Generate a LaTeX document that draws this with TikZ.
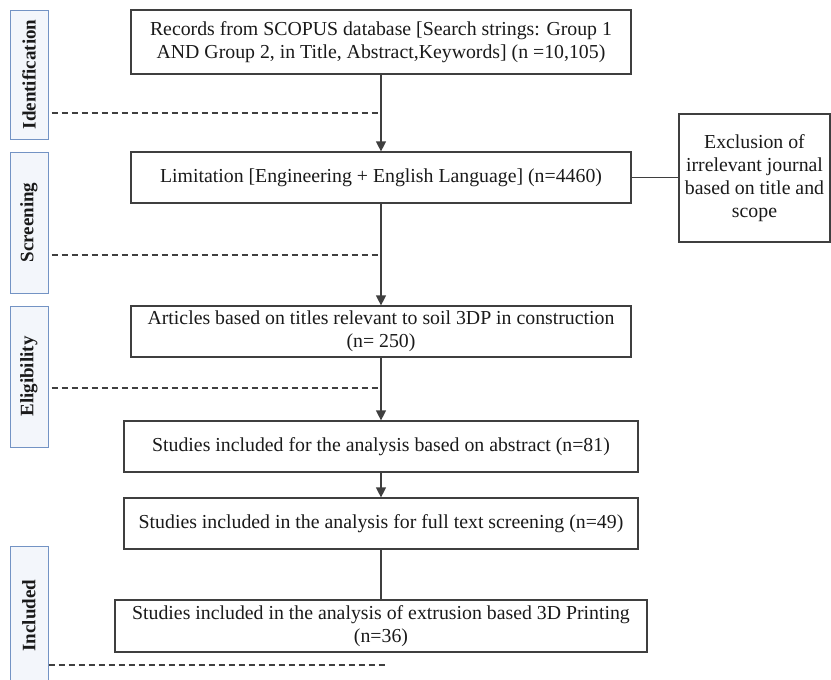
\documentclass[tikz,border=0pt]{standalone}
\usepackage{fontspec}
\setmainfont{Liberation Serif}
\usetikzlibrary{arrows.meta, positioning}

\begin{document}
\begin{tikzpicture}[
    x=1pt, y=-1pt,
    every node/.style={font=\fontsize{19.8}{23}\selectfont},
]

% ---------------------------------------------------------------- colours
\definecolor{linecol}{HTML}{3F3F3F}   % boxes and connectors
\definecolor{textcol}{HTML}{1A1A1A}
\definecolor{phaseline}{HTML}{7393C4} % phase tabs on the left
\definecolor{phasefill}{HTML}{F3F6FB}

% ---------------------------------------------------------------- styles
\tikzset{
    stage/.style={
        rectangle, draw=linecol, line width=1.2pt, fill=white,
        text=textcol, align=center, inner sep=2pt,
    },
    phase/.style={
        rectangle, draw=phaseline, line width=1pt, fill=phasefill,
        minimum height=38, text=textcol, rotate=90,
        font=\fontsize{19}{22}\selectfont\bfseries,
    },
    flow/.style={
        -{Triangle[length=10pt, width=10pt]}, line width=1.2pt, linecol,
    },
    link/.style={line width=1.2pt, linecol},
    divider/.style={dash pattern=on 6pt off 4pt, line width=1.3pt, linecol},
}

\useasboundingbox (0,0) rectangle (831,680);

% ================================================================
% GEOMETRY (1 unit = 1 px of the 831 x 680 frame, y down)
%   main column centred on x = 381
%   phase tabs   x in [10, 48]
%   side box     x in [679, 830]
% ================================================================

% ---------------------------------------------------------------- main column
\node[stage, minimum width=500, minimum height=64] (records) at (381, 42)
    {Records from SCOPUS database [Search strings: Group 1\\
     AND Group 2, in Title, Abstract,Keywords] (n =10,105)};
\node[stage, minimum width=500, minimum height=51] (limit) at (381, 177.5)
    {Limitation [Engineering + English Language] (n=4460)};
\node[stage, minimum width=500, minimum height=51] (titles) at (381, 331.5)
    {Articles based on titles relevant to soil 3DP in construction\\
     (n= 250)};
\node[stage, minimum width=514, minimum height=51] (abstract) at (381, 446.5)
    {Studies included for the analysis based on abstract (n=81)};
\node[stage, minimum width=514, minimum height=51] (fulltext) at (381, 523.5)
    {Studies included in the analysis for full text screening (n=49)};
\node[stage, minimum width=532, minimum height=52] (extrusion) at (381, 626)
    {Studies included in the analysis of extrusion based 3D Printing\\
     (n=36)};

% side box
\node[stage, minimum width=151, minimum height=128] (exclude) at (754.5, 178)
    {Exclusion of\\ irrelevant journal\\ based on title and\\ scope};

% ---------------------------------------------------------------- connectors
\foreach \i/\j in {records/limit, limit/titles, titles/abstract, abstract/fulltext} {
    \draw[flow] (\i) -- (\j);
}
\draw[link] (fulltext) -- (extrusion);
\draw[link] (limit) -- (limit -| exclude.west);

% ---------------------------------------------------------------- phase tabs
\node[phase, minimum width=129] (ident) at (29, 74.5) {Identification};
\node[phase, minimum width=141] (screen) at (29, 222.5) {Screening};
\node[phase, minimum width=141] (elig) at (29, 376.5) {Eligibility};
\node[phase, minimum width=139] (incl) at (29, 615.5) {Included};

% dashed phase boundaries
\coordinate (cut1) at (381, 113);
\coordinate (cut2) at (381, 255);
\coordinate (cut3) at (381, 388);
\coordinate (cut4) at (386, 665);

\draw[divider] ([xshift=3pt]ident.south |- cut1) -- (cut1);
\draw[divider] ([xshift=3pt]screen.south |- cut2) -- (cut2);
\draw[divider] ([xshift=3pt]elig.south |- cut3) -- (cut3);
\draw[divider] (incl.south |- cut4) -- (cut4);

\end{tikzpicture}
\end{document}
